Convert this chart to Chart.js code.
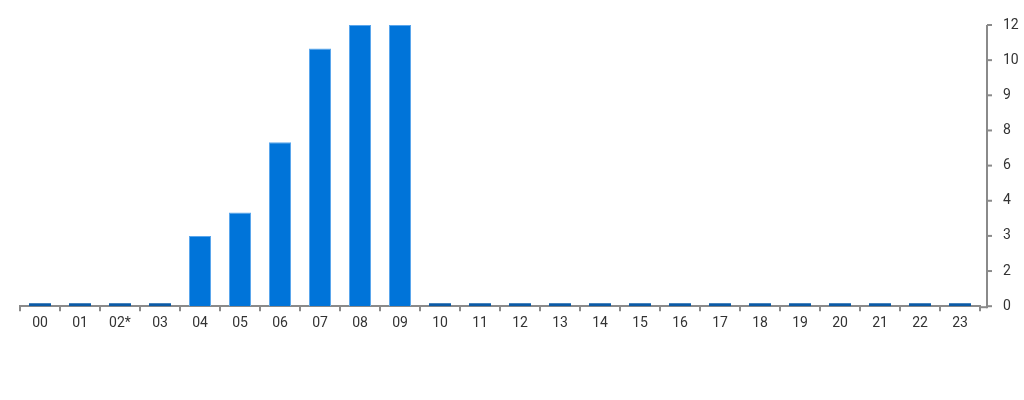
<!DOCTYPE html>
<html>
<head>
<meta charset="utf-8">
<script src="https://cdn.jsdelivr.net/npm/chart.js@4/dist/chart.umd.min.js"></script>
<style>
    html, body { margin: 0; padding: 0; background: #fff; }
    #wrap { width: 1024px; height: 400px; }
</style>
</head>
<body>
<div id="wrap"><canvas id="hours_chart" width="1024" height="400"></canvas></div>
<script>
// Hours of the day
var hours = ['00', '01', '02*', '03', '04', '05', '06', '07', '08', '09', '10', '11',
             '12', '13', '14', '15', '16', '17', '18', '19', '20', '21', '22', '23']

// Counts per hour
var counts = [0, 0, 0, 0, 3, 4, 7, 11, 12, 12, 0, 0,
              0, 0, 0, 0, 0, 0, 0, 0, 0, 0, 0, 0]

// Right axis labels, as printed
var tickLabels = ['0', '2', '3', '4', '6', '8', '9', '10', '12']

var barColor  = '#0074d9'
var edgeColor = '#5aa6ec'
var stubColor = '#0a5aa6'
var axisColor = '#8a8a8a'
var textColor = '#333333'

Chart.defaults.font.family = 'Roboto, "Noto Sans", sans-serif'
Chart.defaults.color = textColor

// The value axis sits a few pixels right of the last category
var axisGap = 7

var rightAxisLine = {
    id: 'rightAxisLine',
    afterDraw: function (chart) {
        var c = chart.ctx
        var area = chart.chartArea
        var y = chart.scales.y
        var x0 = area.right + axisGap

        c.save()
        c.strokeStyle = axisColor
        c.lineWidth = 2

        // extend the category axis line up to the value axis
        c.beginPath()
        c.moveTo(area.right, area.bottom + 1)
        c.lineTo(x0, area.bottom + 1)
        c.stroke()

        // value axis line
        c.beginPath()
        c.moveTo(x0, area.top)
        c.lineTo(x0, area.bottom + 2)
        c.stroke()

        // tick marks
        var ticks = y.ticks
        for (var i = 0; i < ticks.length; i++) {
            var py = y.getPixelForTick(i)
            c.beginPath()
            c.moveTo(x0, py)
            c.lineTo(x0 + 5, py)
            c.stroke()
        }
        c.restore()
    }
}

var ctx = document.getElementById('hours_chart')

new Chart(ctx, {
    type: 'bar',
    data: {
        labels: hours,
        datasets: [
            {
                label: 'Count',
                data: counts,
                backgroundColor: function (c) {
                    return c.raw === 0 ? stubColor : barColor
                },
                borderColor: function (c) {
                    return c.raw === 0 ? stubColor : edgeColor
                },
                borderWidth: function (c) {
                    return c.raw === 0 ? 0 : 1
                },
                borderSkipped: 'bottom',
                minBarLength: 3,
                barPercentage: 0.55,
                categoryPercentage: 1
            }
        ]
    },
    plugins: [rightAxisLine],
    options: {
        responsive: false,
        animation: false,
        layout: {
            padding: { left: 20, right: 0, top: 25, bottom: 64 }
        },
        plugins: {
            legend: { display: false },
            tooltip: { enabled: false }
        },
        scales: {
            x: {
                grid: {
                    offset: true,
                    drawOnChartArea: false,
                    drawTicks: true,
                    tickLength: 5,
                    color: axisColor,
                    lineWidth: 2
                },
                border: { display: true, color: axisColor, width: 2 },
                ticks: {
                    font: { size: 14 },
                    color: textColor,
                    padding: 4,
                    maxRotation: 0,
                    autoSkip: false
                }
            },
            y: {
                position: 'right',
                min: 0,
                max: 12,
                afterFit: function (scale) {
                    scale.width = 44
                    scale.paddingTop = 0
                    scale.paddingBottom = 0
                },
                grid: {
                    display: false,
                    drawTicks: false,
                    tickLength: 0
                },
                border: { display: false },
                ticks: {
                    stepSize: 1.5,
                    font: { size: 14 },
                    color: textColor,
                    padding: 23,
                    callback: function (value, index) {
                        return tickLabels[index]
                    }
                }
            }
        }
    }
})
</script>
</body>
</html>
